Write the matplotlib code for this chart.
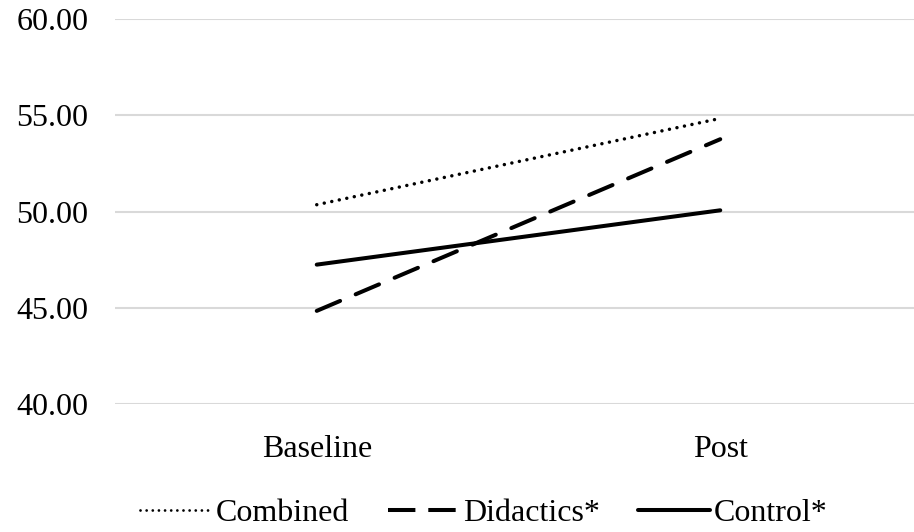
import matplotlib
matplotlib.use("Agg")
import matplotlib.pyplot as plt

categories = ["Baseline", "Post"]
combined = [50.36, 54.84]
didactics = [44.85, 53.76]
control = [47.25, 50.07]
yticks = [40, 45, 50, 55, 60]

plt.rcParams['font.family'] = ['Liberation Serif', 'DejaVu Serif']

fig = plt.figure(figsize=(9.14, 5.32), dpi=100)
left = 115 / 914
right = 922 / 914
bottom = (532 - 404.3) / 532
top = (532 - 19) / 532
ax = fig.add_axes([left, bottom, right - left, top - bottom])

x = list(range(len(categories)))
ax.plot(x, combined, color='black', lw=2.5, linestyle=(0, (0.01, 2.2)),
        dash_capstyle='round', label='Combined')
ax.plot(x, didactics, color='black', lw=2.9, linestyle=(0, (6.3, 4.2)),
        dash_capstyle='round', label='Didactics*')
ax.plot(x, control, color='black', lw=2.9, solid_capstyle='round', label='Control*')

ax.set_xlim(-0.5, 1.5)
ax.set_ylim(40, 60)
ax.set_yticks(yticks)
ax.set_yticklabels([f"{v:.2f}" for v in yticks])
ax.set_xticks(x)
ax.set_xticklabels(categories)
ax.tick_params(axis='both', length=0, labelsize=23, colors='black')
ax.tick_params(axis='y', pad=19)
ax.tick_params(axis='x', pad=22)
ax.yaxis.grid(True, color='#d9d9d9', lw=1.5)
ax.set_axisbelow(True)
for s in ax.spines.values():
    s.set_visible(False)

handles, labels = ax.get_legend_handles_labels()
leg = fig.legend(handles, labels, loc='center',
                 bbox_to_anchor=(484 / 914, 1 - 513 / 532),
                 ncol=3, frameon=False, fontsize=23, handlelength=2.25,
                 handletextpad=0.12, columnspacing=1.2, borderaxespad=0)
leg.get_lines()[0].set_linewidth(2.0)
leg.get_lines()[1].set_linestyle((0, (6.8, 3.2)))
leg.get_lines()[1].set_dash_capstyle('butt')

fig.savefig("out.png", dpi=100)
